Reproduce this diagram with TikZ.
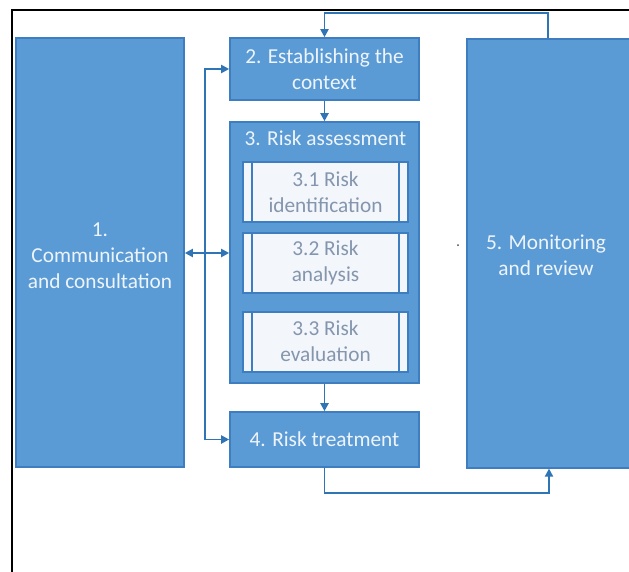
\documentclass[tikz,border=0pt]{standalone}
\usepackage{fontspec}
\setmainfont{Carlito}
\usetikzlibrary{arrows.meta,calc}
\definecolor{boxblue}{HTML}{5B9BD5}
\definecolor{edgeblue}{HTML}{3E7DC0}
\definecolor{lineblue}{HTML}{2F75B5}
\definecolor{subfill}{HTML}{F3F6FB}
\definecolor{subtext}{HTML}{8496AE}
\definecolor{boxtext}{HTML}{EEF4FB}
\begin{document}
\begin{tikzpicture}[x=1pt,y=-1pt,
  txt/.style={align=center, font=\fontsize{21.3}{26}\selectfont},
  mainbox/.style={txt, draw=edgeblue, line width=1.6pt, fill=boxblue, text=boxtext, inner sep=0pt},
  subbox/.style={txt, draw=edgeblue, line width=2pt, fill=subfill, text=subtext, inner sep=0pt, minimum width=165pt, minimum height=60pt},
  conn/.style={draw=lineblue, line width=1.9pt},
  arr/.style={conn, -{Triangle[length=8pt,width=8pt]}},
  darr/.style={conn, {Triangle[length=8pt,width=8pt]}-{Triangle[length=8pt,width=8pt]}}]
\useasboundingbox (0,0) rectangle (629,571);
\clip (0,0) rectangle (629,571);
\fill[white] (0,0) rectangle (629,571);
% frame
\draw[black, line width=2pt] (12,580) -- (12,10) -- (640,10);
% boxes
\node[mainbox, minimum width=168pt, minimum height=429pt] (b1) at (100,252.5) {};
\node[txt, text=boxtext] (b1t) at (100,256) {1.\\Communication\\and consultation};
\node[mainbox, minimum width=170pt, minimum height=429pt, anchor=north west] (b5) at (466,38) {};
\node[txt, text=boxtext] (b5t) at (546,255) {5. Monitoring\\and review};
\node[mainbox, minimum width=189pt, minimum height=62pt] (b2) at (324.5,69) {2. Establishing the\\context};
\node[mainbox, minimum width=189pt, minimum height=261pt] (b3) at (324.5,252.5) {};
\node[txt, text=boxtext] (b3t) at (325.5,138) {3. Risk assessment};
\node[subbox] (s1) at (325.5,192) {3.1 Risk\\identification};
\node[subbox] (s2) at (325.5,263) {3.2 Risk\\analysis};
\node[subbox] (s3) at (325.5,341.5) {3.3 Risk\\evaluation};
\foreach \s in {s1,s2,s3}{
  \draw[edgeblue, line width=2pt] ([xshift=10pt]\s.north west) -- ([xshift=10pt]\s.south west);
  \draw[edgeblue, line width=2pt] ([xshift=-10pt]\s.north east) -- ([xshift=-10pt]\s.south east);
}
\node[mainbox, minimum width=189pt, minimum height=55pt] (b4) at (324.5,439.5) {4. Risk treatment};
% connectors
\coordinate (t1) at (548,13);
\coordinate (t2) at (324.5,13);
\draw[arr] (b5.north -| t1) -- (t1) -- (t2) -- (b2.north);
\draw[arr] (b2) -- (b3);
\draw[arr] (b3) -- (b4);
\coordinate (u1) at (324.5,493);
\coordinate (u2) at (549,493);
\draw[arr] (b4.south) -- (u1) -- (u2) -- (b5.south -| u2);
\coordinate (bx) at (205,439.5);
\draw[darr] (b2.west) -| (bx) -- (b4.west);
\coordinate (my) at (0,253);
\draw[darr] (b1.east |- my) -- (b3.west |- my);
\fill[gray!60!black] (458,245) circle (1pt);
\end{tikzpicture}
\end{document}
